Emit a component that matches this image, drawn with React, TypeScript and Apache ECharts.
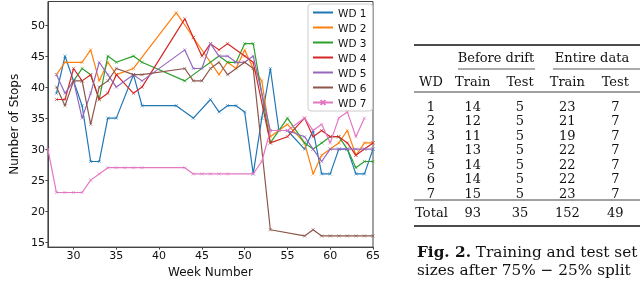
import React, { useEffect, useRef } from "react";
import * as echarts from "echarts";

const seriesNames = ["WD 1", "WD 2", "WD 3", "WD 4", "WD 5", "WD 6", "WD 7"];
const seriesColors = ["#1f77b4", "#ff7f0e", "#2ca02c", "#d62728", "#9467bd", "#8c564b", "#e377c2"];

const wd1: [number, number][] = [[28,39],[29,45],[31,37],[32,28],[33,28],[34,35],[35,35],[37,42],[38,37],[42,37],[44,35],[46,38],[47,36],[48,37],[49,37],[50,36],[51,26],[52,35],[53,43],[54,33],[55,33],[57,30],[58,33],[59,26],[60,26],[61,30],[62,30],[63,26],[64,26],[65,30]];
const wd2: [number, number][] = [[28,42],[29,44],[31,44],[32,46],[33,41],[34,44],[35,42],[37,43],[42,52],[44,48],[46,44],[47,42],[48,44],[49,43],[50,46],[51,43],[52,41],[53,32],[54,33],[55,34],[57,31],[58,26],[59,29],[60,30],[61,31],[62,33],[63,29],[64,31],[65,31]];
const wd3: [number, number][] = [[30,41],[31,43],[32,42],[33,38],[34,45],[35,44],[37,45],[38,44],[43,41],[47,45],[48,44],[49,44],[50,47],[51,47],[53,31],[55,35],[57,31],[58,30],[59,31],[60,32],[61,32],[62,30],[63,27],[64,28],[65,28]];
const wd4: [number, number][] = [[28,38],[29,38],[30,43],[31,41],[32,42],[33,38],[34,39],[35,42],[37,39],[38,40],[43,51],[44,48],[45,45],[46,47],[47,46],[48,47],[50,45],[51,44],[53,31],[55,32],[57,35],[58,32],[59,33],[60,32],[61,32],[62,31],[63,29],[64,30],[65,31]];
const wd5: [number, number][] = [[28,42],[29,39],[30,41],[31,35],[32,39],[33,44],[34,42],[35,40],[37,42],[38,41],[43,46],[44,43],[45,43],[46,47],[47,45],[48,45],[49,44],[50,44],[51,45],[53,33],[55,33],[57,32],[58,30],[59,28],[60,30],[61,30],[62,30],[63,30],[64,30],[65,30]];
const wd6: [number, number][] = [[28,40],[29,37],[30,41],[31,41],[32,34],[33,40],[34,41],[35,43],[37,42],[38,42],[43,43],[44,41],[45,41],[46,43],[47,44],[48,42],[50,44],[51,43],[53,17],[57,16],[58,17],[59,16],[60,16],[61,16],[62,16],[63,16],[64,16],[65,16]];
const wd7: [number, number][] = [[27,30],[28,23],[29,23],[30,23],[31,23],[32,25],[33,26],[34,27],[35,27],[36,27],[37,27],[38,27],[43,27],[44,26],[45,26],[46,26],[47,26],[48,26],[51,26],[52,28],[53,33],[54,33],[55,33],[57,35],[58,33],[59,34],[60,31],[61,35],[62,36],[63,32],[64,35]];
const seriesData = [wd1, wd2, wd3, wd4, wd5, wd6, wd7];

const xTicks = [30, 35, 40, 45, 50, 55, 60, 65];
const yTicks = [15, 20, 25, 30, 35, 40, 45, 50];

// Table
const groupHeaders = ["Before drift", "Entire data"];
const columnHeaders = ["WD", "Train", "Test", "Train", "Test"];
const wdIds = ["1", "2", "3", "4", "5", "6", "7"];
const beforeTrain = [14, 12, 11, 13, 14, 14, 15];
const beforeTest = [5, 5, 5, 5, 5, 5, 5];
const entireTrain = [23, 21, 19, 22, 22, 22, 23];
const entireTest = [7, 7, 7, 7, 7, 7, 7];
const totalRow = ["Total", "93", "35", "152", "49"];
const captionBold = "Fig. 2.";
const captionLine1 = " Training and test set";
const captionLine2 = "sizes after 75% \u2212 25% split";

const SERIF = "'DejaVu Serif', serif";
const SANS = "'DejaVu Sans', sans-serif";

export default function App() {
  const ref = useRef<HTMLDivElement>(null);
  useEffect(() => {
    if (!ref.current) return;
    const chart = echarts.init(ref.current, null, { renderer: "svg" });

    const colX = [431, 472.7, 520, 567.3, 615.3];
    const txt = (text: string, x: number, y: number, size = 13, align = "center") => ({
      type: "text",
      x,
      y,
      style: {
        text,
        fill: "#111",
        fontSize: size,
        fontFamily: SERIF,
        textAlign: align,
        textVerticalAlign: "middle",
      },
    });
    const rule = (x1: number, x2: number, y: number, w: number) => ({
      type: "line",
      shape: { x1, y1: y, x2, y2: y },
      style: { stroke: "#111", lineWidth: w },
    });

    const graphics: any[] = [];
    graphics.push(rule(414, 640, 45, 1.3));
    graphics.push(txt(groupHeaders[0], 496, 57.5));
    graphics.push(txt(groupHeaders[1], 592, 57.5));
    graphics.push(rule(458, 535, 69, 0.7));
    graphics.push(rule(553, 640, 69, 0.7));
    columnHeaders.forEach((h, i) => graphics.push(txt(h, colX[i], 81.5)));
    graphics.push(rule(414, 640, 92, 0.8));
    wdIds.forEach((id, r) => {
      const y = 106 + r * 14.55;
      const vals = [id, String(beforeTrain[r]), String(beforeTest[r]), String(entireTrain[r]), String(entireTest[r])];
      vals.forEach((v, i) => graphics.push(txt(v, colX[i], y)));
    });
    graphics.push(rule(414, 640, 200, 0.8));
    totalRow.forEach((v, i) => graphics.push(txt(v, i === 0 ? 431.5 : colX[i], 212.7)));
    graphics.push(rule(414, 640, 226, 1.3));
    graphics.push({
      type: "text",
      x: 417,
      y: 251.5,
      style: {
        text: "{b|" + captionBold + "}" + captionLine1,
        fill: "#111",
        fontSize: 15.3,
        fontFamily: SERIF,
        textVerticalAlign: "middle",
        rich: { b: { fontWeight: "bold", fontSize: 15.3, fontFamily: SERIF, fill: "#111" } },
      },
    });
    graphics.push(txt(captionLine2, 417, 269.5, 15.3, "left"));

    chart.setOption({
      animation: false,
      grid: {
        left: 27,
        top: 1.5,
        width: 346,
        height: 258.5,
        show: true,
        borderColor: "#444",
        borderWidth: 1,
        backgroundColor: "transparent",
      },
      xAxis: {
        type: "value",
        min: 27,
        max: 65,
        name: "Week Number",
        nameLocation: "middle",
        nameGap: 15,
        nameTextStyle: { fontFamily: SANS, fontSize: 12, color: "#111" },
        axisLine: { show: true, lineStyle: { color: "#444", width: 1 } },
        axisTick: { show: true, length: 2.5, lineStyle: { color: "#444" }, customValues: xTicks },
        axisLabel: { fontFamily: SANS, fontSize: 11, color: "#111", margin: 3, customValues: xTicks },
        splitLine: { show: false },
      },
      yAxis: {
        type: "value",
        min: 14.2,
        max: 53.8,
        name: "Number of Stops",
        nameLocation: "middle",
        nameGap: 18,
        nameTextStyle: { fontFamily: SANS, fontSize: 12, color: "#111" },
        axisLine: { show: true, lineStyle: { color: "#444", width: 1 } },
        axisTick: { show: true, length: 2.5, lineStyle: { color: "#444" }, customValues: yTicks },
        axisLabel: { fontFamily: SANS, fontSize: 11, color: "#111", margin: 3, customValues: yTicks },
        splitLine: { show: false },
      },
      legend: {
        orient: "vertical",
        left: 308,
        top: 4,
        padding: [3, 6, 3, 4],
        itemWidth: 20,
        itemHeight: 6,
        itemGap: 4,
        backgroundColor: "#fff",
        borderColor: "#ccc",
        borderWidth: 1,
        borderRadius: 3,
        textStyle: { fontFamily: SANS, fontSize: 10.5, color: "#111" },
        data: seriesNames.map((name, i) =>
          i === seriesNames.length - 1
            ? { name }
            : { name, itemStyle: { borderWidth: 0 } }
        ),
      },
      graphic: graphics,
      series: seriesNames.map((name, i) => ({
        name,
        type: "line",
        data: seriesData[i],
        symbol: "path://M0,0L10,10M10,0L0,10",
        symbolSize: 3.2,
        showSymbol: true,
        lineStyle: { width: 1.2, color: seriesColors[i] },
        itemStyle: { color: seriesColors[i], borderColor: seriesColors[i], borderWidth: 0.6 },
        z: 2 + i,
      })),
    });
    return () => chart.dispose();
  }, []);
  return <div ref={ref} style={{ position: "fixed", left: 0, top: 0, width: 640, height: 283 }} />;
}
